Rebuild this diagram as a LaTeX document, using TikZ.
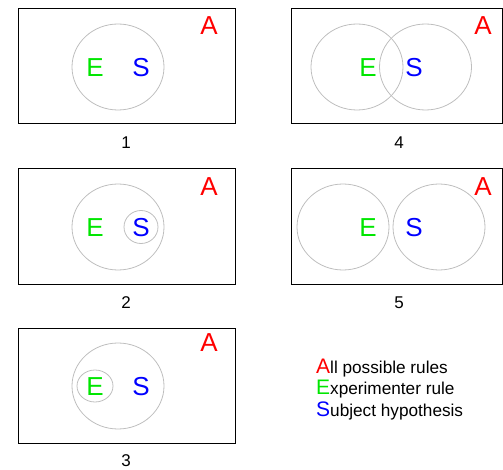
\documentclass[tikz,border=0pt]{standalone}
\usepackage{fontspec}
\setmainfont{Liberation Sans}
\definecolor{eg}{RGB}{0,230,0}
\definecolor{sb}{RGB}{0,0,255}
\definecolor{ar}{RGB}{255,0,0}
\definecolor{cg}{RGB}{190,190,190}
\begin{document}
\begin{tikzpicture}[x=1pt,y=-1pt,
  frame/.style={draw=black, line width=1pt},
  venn/.style={draw=cg, line width=0.8pt},
  big/.style={inner sep=0pt, font=\fontsize{26}{26}\selectfont},
  num/.style={inner sep=0pt, font=\fontsize{17}{17}\selectfont},
  leg/.style={inner sep=0pt, anchor=base west, font=\fontsize{17.2}{17.2}\selectfont}]
\useasboundingbox (0,0) rectangle (503,470);
% Panel 1
\draw[frame] (18,9) rectangle (235,124);
\draw[venn] (118,67) ellipse (46 and 43);
\node[big, text=eg] (E1) at (95,68) {E};
\node[big, text=sb] (S1) at (141,68) {S};
\node[big, text=ar] (A1) at (209,26) {A};
\node[num] (n1) at (126,143) {1};
% Panel 2
\draw[frame] (18,169) rectangle (235,284);
\draw[venn] (118,227) ellipse (46 and 43);
\draw[venn] (141,227) ellipse (17 and 16.5);
\node[big, text=eg] (E2) at (95,228) {E};
\node[big, text=sb] (S2) at (141,228) {S};
\node[big, text=ar] (A2) at (209,187) {A};
\node[num] (n2) at (126,303) {2};
% Panel 3
\draw[frame] (18,328) rectangle (235,443);
\draw[venn] (118,386) ellipse (46 and 43);
\draw[venn] (95,386) ellipse (18 and 16);
\node[big, text=eg] (E3) at (95,387) {E};
\node[big, text=sb] (S3) at (141,387) {S};
\node[big, text=ar] (A3) at (209,343) {A};
\node[num] (n3) at (126,461) {3};
% Panel 4
\draw[frame] (291,9) rectangle (502,124);
\draw[venn] (357,67) ellipse (46 and 43);
\draw[venn] (425.5,67) ellipse (46 and 43);
\node[big, text=eg] (E4) at (368,68) {E};
\node[big, text=sb] (S4) at (414,68) {S};
\node[big, text=ar] (A4) at (483,26) {A};
\node[num] (n4) at (399,143) {4};
% Panel 5
\draw[frame] (291,169) rectangle (502,284);
\draw[venn] (343,227) ellipse (46 and 43);
\draw[venn] (439,227) ellipse (46 and 43);
\node[big, text=eg] (E5) at (368,228) {E};
\node[big, text=sb] (S5) at (414,228) {S};
\node[big, text=ar] (A5) at (483,187) {A};
\node[num] (n5) at (399,303) {5};
% Legend
\node[leg] (L1) at (316,373) {{\fontsize{21}{21}\selectfont\color{ar}A}ll possible rules};
\node[leg] (L2) at (316,394.5) {{\fontsize{21}{21}\selectfont\color{eg}E}xperimenter rule};
\node[leg] (L3) at (316,416) {{\fontsize{21}{21}\selectfont\color{sb}S}ubject hypothesis};
\end{tikzpicture}
\end{document}
